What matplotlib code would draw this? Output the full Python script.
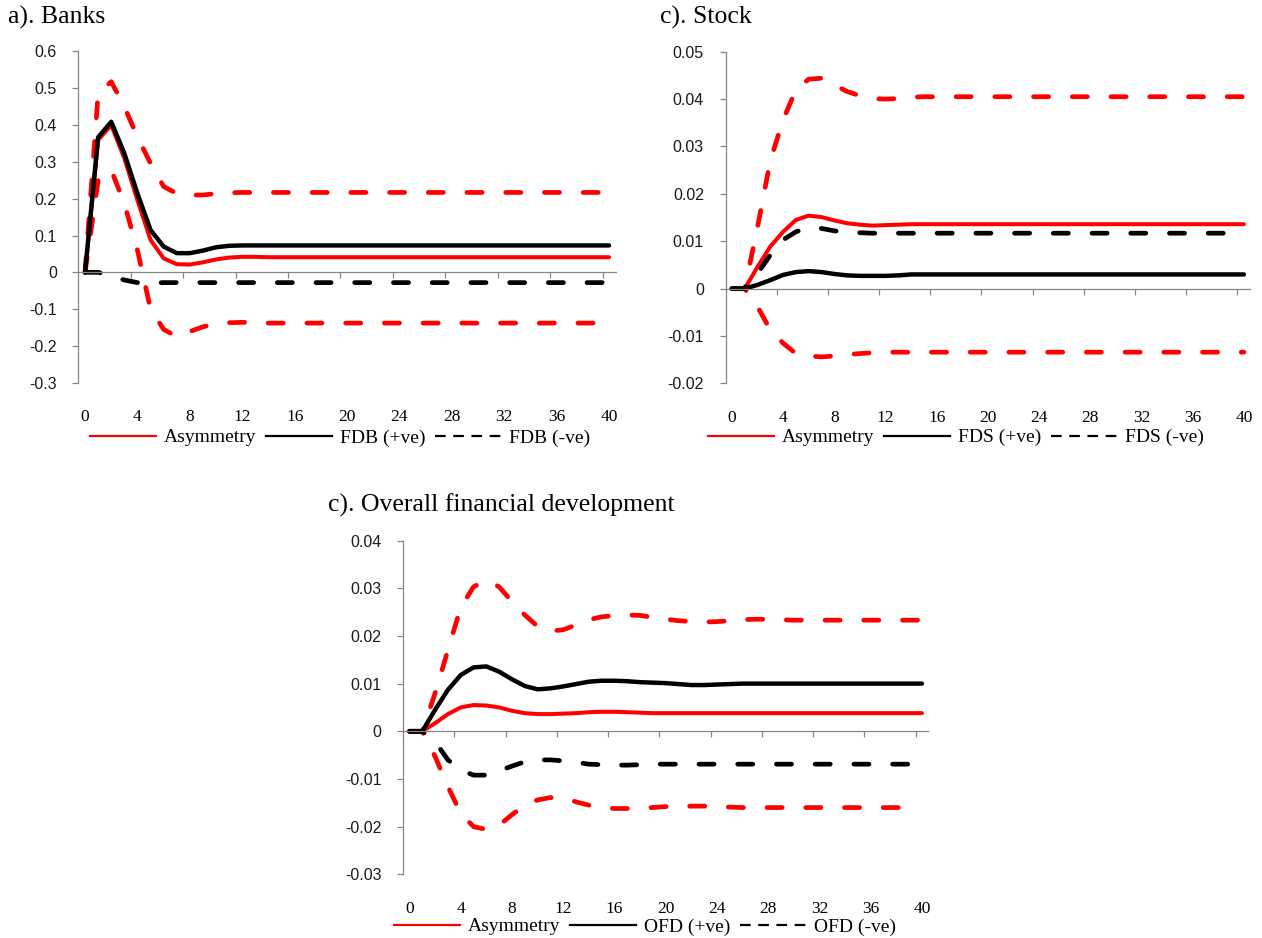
import matplotlib.pyplot as plt
import numpy as np
from matplotlib.lines import Line2D

horizon = np.arange(0, 41)

# a). Banks
banks_asym = [0.000, 0.360, 0.400, 0.310, 0.196, 0.088, 0.038, 0.022, 0.021, 0.027,
              0.035, 0.040, 0.042, 0.042, 0.041, 0.041, 0.041, 0.041, 0.041, 0.041,
              0.041, 0.041, 0.041, 0.041, 0.041, 0.041, 0.041, 0.041, 0.041, 0.041,
              0.041, 0.041, 0.041, 0.041, 0.041, 0.041, 0.041, 0.041, 0.041, 0.041,
              0.041]
banks_pos = [0.000, 0.367, 0.409, 0.323, 0.214, 0.115, 0.070, 0.052, 0.052, 0.059,
             0.068, 0.072, 0.073, 0.073, 0.073, 0.073, 0.073, 0.073, 0.073, 0.073,
             0.073, 0.073, 0.073, 0.073, 0.073, 0.073, 0.073, 0.073, 0.073, 0.073,
             0.073, 0.073, 0.073, 0.073, 0.073, 0.073, 0.073, 0.073, 0.073, 0.073,
             0.073]
banks_neg = [0.000, 0.000, -0.010, -0.021, -0.028, -0.029, -0.028, -0.028, -0.028, -0.028,
             -0.028, -0.028, -0.028, -0.028, -0.028, -0.028, -0.028, -0.028, -0.028, -0.028,
             -0.028, -0.028, -0.028, -0.028, -0.028, -0.028, -0.028, -0.028, -0.028, -0.028,
             -0.028, -0.028, -0.028, -0.028, -0.028, -0.028, -0.028, -0.028, -0.028, -0.028,
             -0.028]
banks_upper = [0.000, 0.486, 0.518, 0.450, 0.368, 0.296, 0.233, 0.214, 0.210, 0.210,
               0.214, 0.216, 0.217, 0.217, 0.217, 0.217, 0.217, 0.217, 0.217, 0.217,
               0.217, 0.217, 0.217, 0.217, 0.217, 0.217, 0.217, 0.217, 0.217, 0.217,
               0.217, 0.217, 0.217, 0.217, 0.217, 0.217, 0.217, 0.217, 0.217, 0.217,
               0.217]
banks_lower = [0.000, 0.250, 0.278, 0.187, 0.060, -0.100, -0.155, -0.175, -0.161, -0.148,
               -0.140, -0.137, -0.136, -0.136, -0.138, -0.138, -0.138, -0.138, -0.138, -0.138,
               -0.138, -0.138, -0.138, -0.138, -0.138, -0.138, -0.138, -0.138, -0.138, -0.138,
               -0.138, -0.138, -0.138, -0.138, -0.138, -0.138, -0.138, -0.138, -0.138, -0.138,
               -0.138]

# c). Stock
stock_asym = [0.0, 0.0, 0.0046, 0.0089, 0.0120, 0.0145, 0.0154, 0.0151, 0.0144, 0.0138,
              0.0135, 0.0133, 0.0134, 0.0135, 0.0136, 0.0136, 0.0136, 0.0136, 0.0136, 0.0136,
              0.0136, 0.0136, 0.0136, 0.0136, 0.0136, 0.0136, 0.0136, 0.0136, 0.0136, 0.0136,
              0.0136, 0.0136, 0.0136, 0.0136, 0.0136, 0.0136, 0.0136, 0.0136, 0.0136, 0.0136,
              0.0136]
stock_pos = [0.0, 0.0, 0.0008, 0.0018, 0.0029, 0.0035, 0.0037, 0.0035, 0.0031, 0.0028,
             0.0027, 0.0027, 0.0027, 0.0028, 0.0030, 0.0030, 0.0030, 0.0030, 0.0030, 0.0030,
             0.0030, 0.0030, 0.0030, 0.0030, 0.0030, 0.0030, 0.0030, 0.0030, 0.0030, 0.0030,
             0.0030, 0.0030, 0.0030, 0.0030, 0.0030, 0.0030, 0.0030, 0.0030, 0.0030, 0.0030,
             0.0030]
stock_neg = [0.0, 0.0, 0.0032, 0.0071, 0.0103, 0.0120, 0.0129, 0.0127, 0.0122, 0.0119,
             0.0118, 0.0117, 0.0117, 0.0117, 0.0117, 0.0117, 0.0117, 0.0117, 0.0117, 0.0117,
             0.0117, 0.0117, 0.0117, 0.0117, 0.0117, 0.0117, 0.0117, 0.0117, 0.0117, 0.0117,
             0.0117, 0.0117, 0.0117, 0.0117, 0.0117, 0.0117, 0.0117, 0.0117, 0.0117, 0.0117,
             0.0117]
stock_upper = [0.0, 0.0, 0.0130, 0.0270, 0.0356, 0.0420, 0.0442, 0.0444, 0.0430, 0.0416,
               0.0407, 0.0401, 0.0400, 0.0401, 0.0404, 0.0405, 0.0405, 0.0405, 0.0405, 0.0405,
               0.0405, 0.0405, 0.0405, 0.0405, 0.0405, 0.0405, 0.0405, 0.0405, 0.0405, 0.0405,
               0.0405, 0.0405, 0.0405, 0.0405, 0.0405, 0.0405, 0.0405, 0.0405, 0.0405, 0.0405,
               0.0405]
stock_lower = [0.0, 0.0, -0.0038, -0.0087, -0.0115, -0.0137, -0.0142, -0.0144, -0.0142, -0.0139,
               -0.0137, -0.0135, -0.0134, -0.0134, -0.0134, -0.0134, -0.0134, -0.0134, -0.0134, -0.0134,
               -0.0134, -0.0134, -0.0134, -0.0134, -0.0134, -0.0134, -0.0134, -0.0134, -0.0134, -0.0134,
               -0.0134, -0.0134, -0.0134, -0.0134, -0.0134, -0.0134, -0.0134, -0.0134, -0.0134, -0.0134,
               -0.0134]

# c). Overall financial development
ofd_asym = [0.0, 0.0, 0.0017, 0.0036, 0.0050, 0.0055, 0.0054, 0.0050, 0.0043, 0.0038,
            0.0036, 0.0036, 0.0037, 0.0038, 0.0040, 0.0041, 0.0041, 0.0040, 0.0039, 0.0038,
            0.0038, 0.0038, 0.0038, 0.0038, 0.0038, 0.0038, 0.0038, 0.0038, 0.0038, 0.0038,
            0.0038, 0.0038, 0.0038, 0.0038, 0.0038, 0.0038, 0.0038, 0.0038, 0.0038, 0.0038,
            0.0038]
ofd_pos = [0.0, 0.0, 0.0045, 0.0087, 0.0118, 0.0134, 0.0136, 0.0125, 0.0109, 0.0095,
           0.0088, 0.0090, 0.0094, 0.0099, 0.0104, 0.0106, 0.0106, 0.0105, 0.0103, 0.0102,
           0.0101, 0.0099, 0.0097, 0.0097, 0.0098, 0.0099, 0.0100, 0.0100, 0.0100, 0.0100,
           0.0100, 0.0100, 0.0100, 0.0100, 0.0100, 0.0100, 0.0100, 0.0100, 0.0100, 0.0100,
           0.0100]
ofd_neg = [0.0, 0.0, -0.0022, -0.0060, -0.0081, -0.0092, -0.0092, -0.0083, -0.0073, -0.0064,
           -0.0060, -0.0060, -0.0062, -0.0065, -0.0069, -0.0070, -0.0071, -0.0071, -0.0070, -0.0069,
           -0.0069, -0.0069, -0.0069, -0.0069, -0.0069, -0.0069, -0.0069, -0.0069, -0.0069, -0.0069,
           -0.0069, -0.0069, -0.0069, -0.0069, -0.0069, -0.0069, -0.0069, -0.0069, -0.0069, -0.0069,
           -0.0069]
ofd_upper = [0.0, 0.0, 0.0080, 0.0170, 0.0260, 0.0303, 0.0317, 0.0303, 0.0272, 0.0244,
             0.0220, 0.0210, 0.0213, 0.0223, 0.0234, 0.0240, 0.0243, 0.0244, 0.0243, 0.0239,
             0.0235, 0.0232, 0.0230, 0.0229, 0.0230, 0.0232, 0.0234, 0.0235, 0.0235, 0.0234,
             0.0233, 0.0233, 0.0233, 0.0233, 0.0233, 0.0233, 0.0233, 0.0233, 0.0233, 0.0233,
             0.0233]
ofd_lower = [0.0, 0.0, -0.0053, -0.0116, -0.0172, -0.0200, -0.0206, -0.0197, -0.0175, -0.0155,
             -0.0144, -0.0139, -0.0140, -0.0148, -0.0155, -0.0160, -0.0162, -0.0162, -0.0161, -0.0160,
             -0.0158, -0.0158, -0.0157, -0.0157, -0.0158, -0.0159, -0.0160, -0.0160, -0.0160, -0.0160,
             -0.0160, -0.0160, -0.0160, -0.0160, -0.0160, -0.0160, -0.0160, -0.0160, -0.0160, -0.0160,
             -0.0160]

banks_yticks = [-0.3, -0.2, -0.1, 0, 0.1, 0.2, 0.3, 0.4, 0.5, 0.6]
stock_yticks = [-0.02, -0.01, 0, 0.01, 0.02, 0.03, 0.04, 0.05]
ofd_yticks = [-0.03, -0.02, -0.01, 0, 0.01, 0.02, 0.03, 0.04]

RED = '#ff0000'
GREY = '#868686'
SERIF = 'Liberation Serif'
SANS = 'Liberation Sans'

fig = plt.figure(figsize=(12.62, 9.38), dpi=100)


def panel(rect, asym, pos, neg, upper, lower, yticks, names, legend_xy):
    ax = fig.add_axes(rect)
    band = dict(color=RED, lw=3.4, dashes=(3.2, 5.0), dash_capstyle='round')
    ax.plot(horizon, upper, **band)
    ax.plot(horizon, lower, **band)
    ax.plot(horizon, asym, color=RED, lw=2.9, solid_capstyle='round')
    ax.plot(horizon, neg, color='black', lw=3.4, dashes=(3.2, 5.0), dash_capstyle='round')
    ax.plot(horizon, pos, color='black', lw=3.2, solid_capstyle='round')

    ax.set_xlim(-0.5, 40.5)
    ax.set_ylim(yticks[0], yticks[-1])

    for side in ('top', 'right'):
        ax.spines[side].set_visible(False)
    ax.spines['left'].set_color(GREY)
    ax.spines['left'].set_linewidth(0.9)
    ax.spines['bottom'].set_position(('data', 0))
    ax.spines['bottom'].set_color(GREY)
    ax.spines['bottom'].set_linewidth(0.9)

    # tick marks between categories on the zero line
    ax.set_xticks(np.arange(3.5, 40, 4))
    ax.set_xticklabels([])
    ax.tick_params(axis='x', direction='out', length=4.5, width=0.9, color=GREY)

    ax.set_yticks(yticks)
    ax.set_yticklabels([f'{round(v, 4):g}' for v in yticks], fontfamily=SANS)
    ax.tick_params(axis='y', direction='out', length=4.5, width=0.9, color=GREY,
                   pad=11, labelsize=11.5, labelcolor='#1a1a1a')

    # category labels sit at the bottom of the plot area
    sec = ax.secondary_xaxis('bottom')
    sec.set_xticks(range(0, 41, 4), labels=[str(v) for v in range(0, 41, 4)],
                   fontfamily=SERIF, fontsize=12.5)
    sec.tick_params(length=0, pad=19)
    sec.spines['bottom'].set_visible(False)

    handles = [Line2D([], [], color=RED, lw=1.6),
               Line2D([], [], color='black', lw=1.6),
               Line2D([], [], color='black', lw=1.6, dashes=(4.8, 3.4))]
    ax.legend(handles, names, loc='center', bbox_to_anchor=legend_xy, ncol=3,
              frameon=False, handlelength=3.4, handletextpad=0.4, columnspacing=0.5,
              borderpad=0, borderaxespad=0, prop={'family': SERIF, 'size': 14})
    return ax


panel([0.0622, 0.592, 0.4256, 0.3531], banks_asym, banks_pos, banks_neg,
      banks_upper, banks_lower, banks_yticks,
      ['Asymmetry', 'FDB (+ve)', 'FDB (-ve)'], (0.487, -0.166))
panel([0.5749, 0.5912, 0.4158, 0.3537], stock_asym, stock_pos, stock_neg,
      stock_upper, stock_lower, stock_yticks,
      ['Asymmetry', 'FDS (+ve)', 'FDS (-ve)'], (0.439, -0.163))
panel([0.3194, 0.0679, 0.4162, 0.3558], ofd_asym, ofd_pos, ofd_neg,
      ofd_upper, ofd_lower, ofd_yticks,
      ['Asymmetry', 'OFD (+ve)', 'OFD (-ve)'], (0.46, -0.157))

fig.text(8 / 1262, 1 - 17 / 938, 'a). Banks', family=SERIF, fontsize=18.5, va='center')
fig.text(660 / 1262, 1 - 17 / 938, 'c). Stock', family=SERIF, fontsize=18.5, va='center')
fig.text(328 / 1262, 1 - 505 / 938, 'c). Overall financial development',
         family=SERIF, fontsize=18.5, va='center')

fig.savefig('out.png', dpi=100)
